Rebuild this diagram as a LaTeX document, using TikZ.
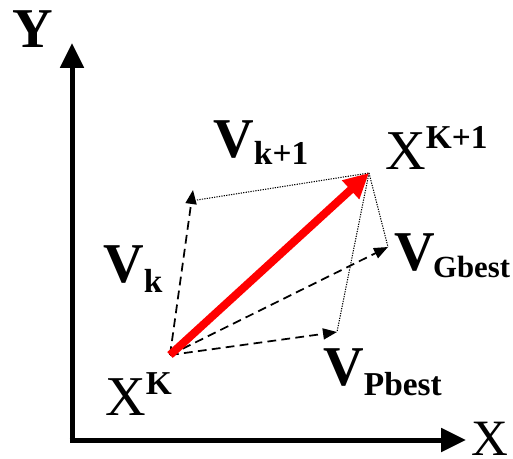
\documentclass[tikz,border=0pt]{standalone}
\usepackage{fontspec}
\setmainfont{Liberation Serif}
\usetikzlibrary{arrows.meta}

\newcommand{\lo}[2][5.7pt]{\raisebox{-#1}{\fontsize{19}{22}\selectfont\bfseries #2}}
\newcommand{\hi}[2][11.4pt]{\raisebox{#1}{\fontsize{19}{22}\selectfont\bfseries #2}}

\begin{document}
\begin{tikzpicture}[x=0.02cm, y=-0.02cm,
  lbl/.style={inner sep=0pt, anchor=base west, font=\fontsize{32}{36}\selectfont},
  vlbl/.style={lbl, font=\fontsize{32}{36}\selectfont\bfseries},
  axis/.style={line width=0.1cm, -{Triangle[length=0.5cm, width=0.46cm]}},
  move/.style={line width=1pt, dash pattern=on 5pt off 3pt, -{Triangle[length=0.28cm, width=0.22cm]}},
  trail/.style={line width=0.6pt, dash pattern=on 0.7pt off 0.7pt},
  jump/.style={red, line width=0.16cm, -{Triangle[length=0.5cm, width=0.48cm]}}]
\useasboundingbox (0,0) rectangle (513,459);
% axes
\coordinate (o)  at (72,440);
\coordinate (yt) at (72,43);
\coordinate (xt) at (466,440);
\draw[axis] ([yshift=-0.05cm]o) -- (yt);
\draw[axis] ([xshift=-0.05cm]o) -- (xt);
\node[vlbl] (ylab) at (12,48) {Y};
\node[lbl, font=\fontsize{29}{34}\selectfont] (xlab) at (471,455) {X};
% points
\coordinate (xk)  at (170,355);
\coordinate (xk1) at (369,173);
\coordinate (vk)  at (193,190);
\coordinate (vkb) at (197,200);
\coordinate (vg)  at (388,247);
\coordinate (vp)  at (337,332);
% velocities
\draw[move] (xk) -- (vk);
\draw[move] (xk) -- (vg);
\draw[move] (xk) -- (vp);
\draw[trail] (vkb) -- (xk1);
\draw[trail] (xk1) -- (vg);
\draw[trail] (xk1) -- (vp);
\draw[jump] (xk) -- (xk1);
% labels
\node[lbl] (xklab)  at (105,415) {X\hi{K}};
\node[lbl] (xk1lab) at (385,170) {X\hi[12pt]{K+1}};
\node[vlbl] (vk1lab) at (213,157) {V\lo[4.5pt]{k+1}};
\node[vlbl] (vklab)  at (103,282) {V\lo{k}};
\node[vlbl] (vglab)  at (394,270) {V\hspace{-1pt}\raisebox{-4pt}{\fontsize{17.5}{20}\selectfont\bfseries Gbest}};
\node[vlbl] (vplab)  at (323,385) {V\lo{Pbest}};
\end{tikzpicture}
\end{document}
